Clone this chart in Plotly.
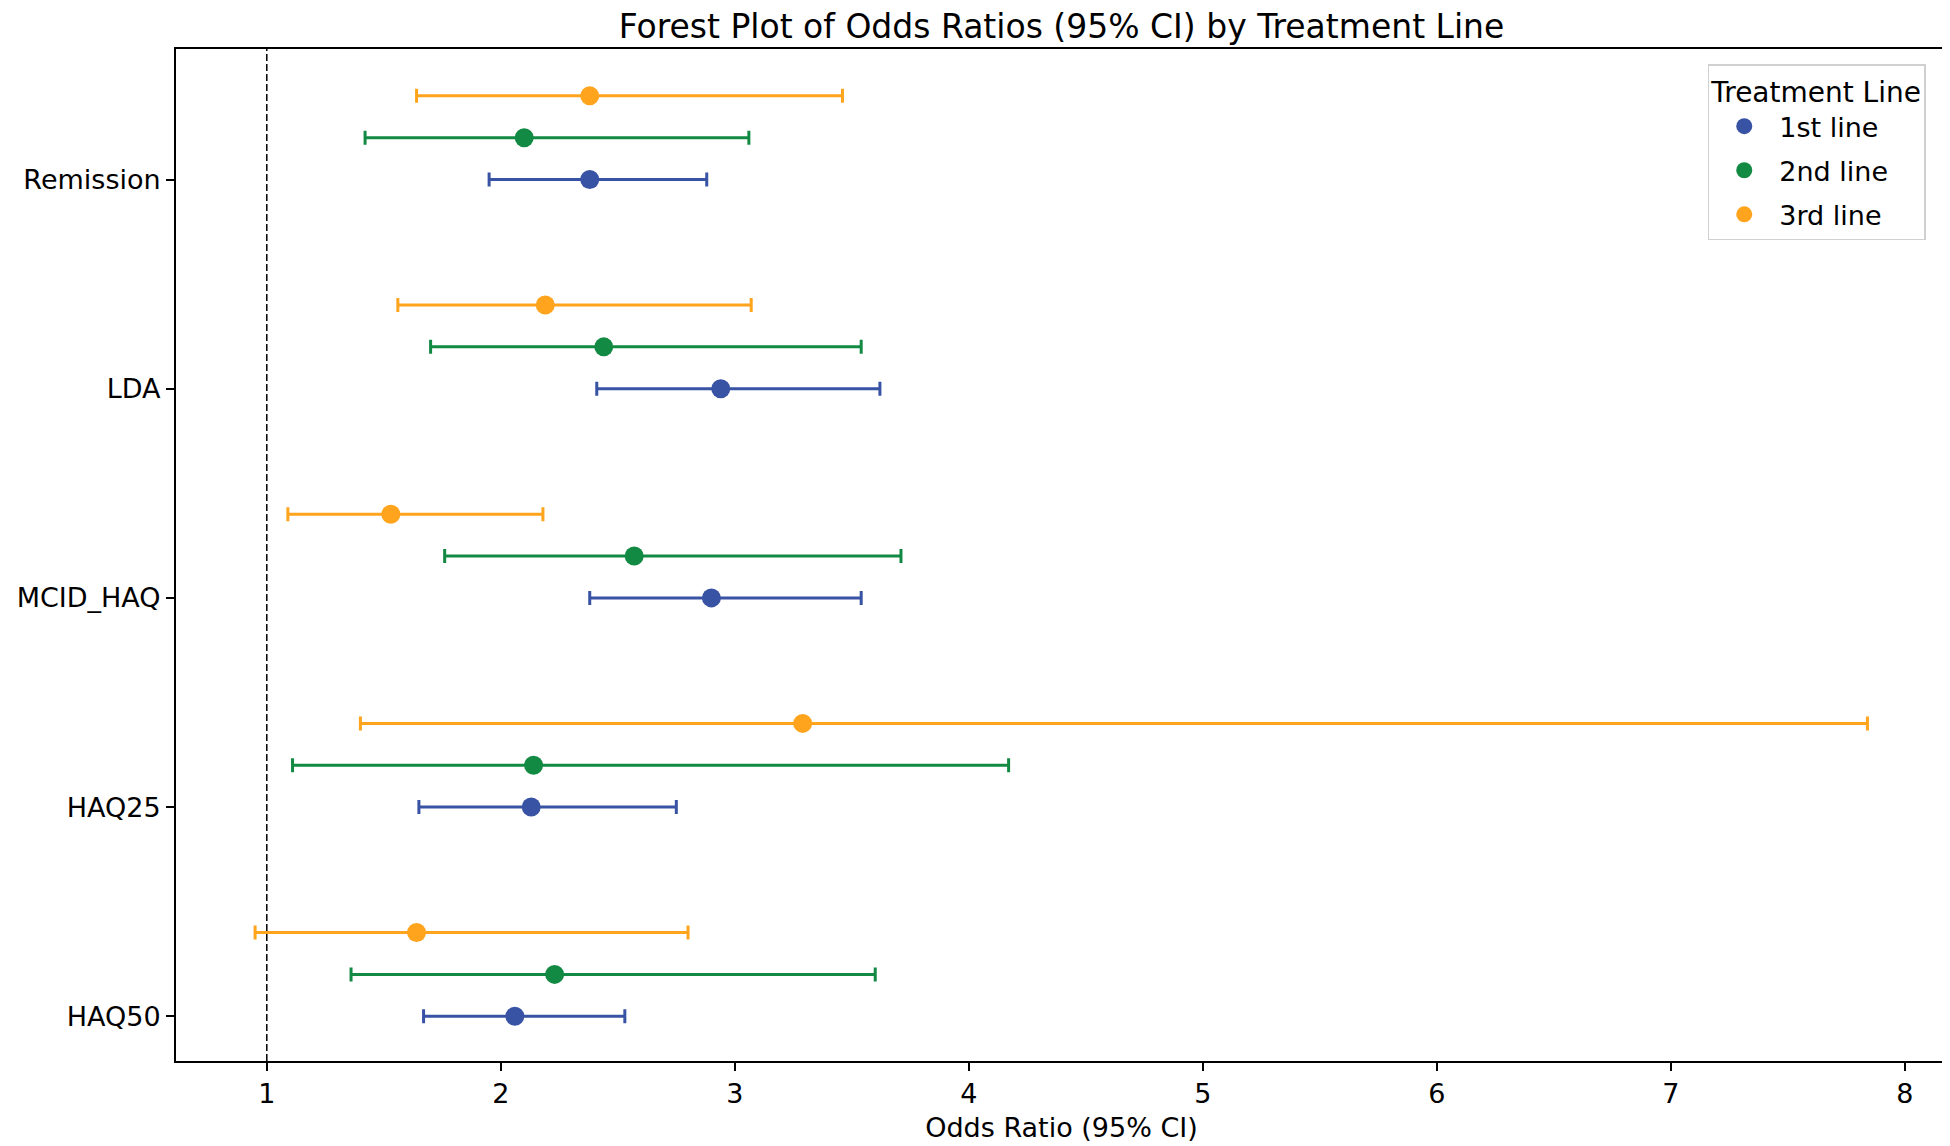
import plotly.graph_objects as go

categories = ["HAQ50", "HAQ25", "MCID_HAQ", "LDA", "Remission"]
lines = ["1st line", "2nd line", "3rd line"]

# Odds ratios and 95% CI per treatment line (order follows categories)
or_1st = [2.06, 2.13, 2.90, 2.94, 2.38]
lo_1st = [1.67, 1.65, 2.38, 2.41, 1.95]
hi_1st = [2.53, 2.75, 3.54, 3.62, 2.88]

or_2nd = [2.23, 2.14, 2.57, 2.44, 2.10]
lo_2nd = [1.36, 1.11, 1.76, 1.70, 1.42]
hi_2nd = [3.60, 4.17, 3.71, 3.54, 3.06]

or_3rd = [1.64, 3.29, 1.53, 2.19, 2.38]
lo_3rd = [0.95, 1.40, 1.09, 1.56, 1.64]
hi_3rd = [2.80, 7.84, 2.18, 3.07, 3.46]

series = [
    (lines[0], or_1st, lo_1st, hi_1st, "#3953A4", 0.0),
    (lines[1], or_2nd, lo_2nd, hi_2nd, "#138A43", 0.2),
    (lines[2], or_3rd, lo_3rd, hi_3rd, "#FFA41C", 0.4),
]

fig = go.Figure()
for name, orv, lo, hi, color, off in series:
    ys = [i + off for i in range(len(categories))]
    fig.add_trace(go.Scatter(
        x=orv, y=ys, mode="markers", name=name, legendgroup=name,
        marker=dict(color=color, size=19),
        error_x=dict(type="data", symmetric=False,
                     array=[h - o for h, o in zip(hi, orv)],
                     arrayminus=[o - l for o, l in zip(orv, lo)],
                     color=color, thickness=3, width=7),
    ))

fig.add_vline(x=1, line=dict(color="black", width=1.5, dash="7px,3px"))

axis_common = dict(showline=True, mirror=True, linecolor="black", linewidth=2,
                   ticks="outside", ticklen=8, tickwidth=1.5, tickcolor="black",
                   showgrid=False, zeroline=False,
                   tickfont=dict(family="DejaVu Sans", size=27, color="black"))

fig.update_layout(
    width=1950, height=1146,
    margin=dict(l=164, r=9, t=41, b=93),
    paper_bgcolor="white", plot_bgcolor="white",
    font=dict(family="DejaVu Sans", color="black"),
    title=dict(text="Forest Plot of Odds Ratios (95% CI) by Treatment Line",
               font=dict(family="DejaVu Sans", size=33, color="black"),
               x=0.5, xref="paper", xanchor="center",
               y=1 - 18 / 1146, yref="container", yanchor="middle"),
    xaxis=dict(range=[0.612, 8.18], tickvals=[1, 2, 3, 4, 5, 6, 7, 8],
               title=dict(text="Odds Ratio (95% CI)", font=dict(size=27), standoff=10),
               **axis_common),
    yaxis=dict(range=[-0.214, 4.624], tickvals=list(range(len(categories))),
               ticktext=categories, **axis_common),
    legend=dict(title=dict(text="Treatment Line", font=dict(size=28)),
                font=dict(size=27), x=0.988, y=0.985, xanchor="right", yanchor="top",
                tracegroupgap=6, itemwidth=60,
                bgcolor="rgba(255,255,255,0.9)", bordercolor="#d0d0d0", borderwidth=1.5),
    showlegend=True,
)

fig.write_html("out.html")
